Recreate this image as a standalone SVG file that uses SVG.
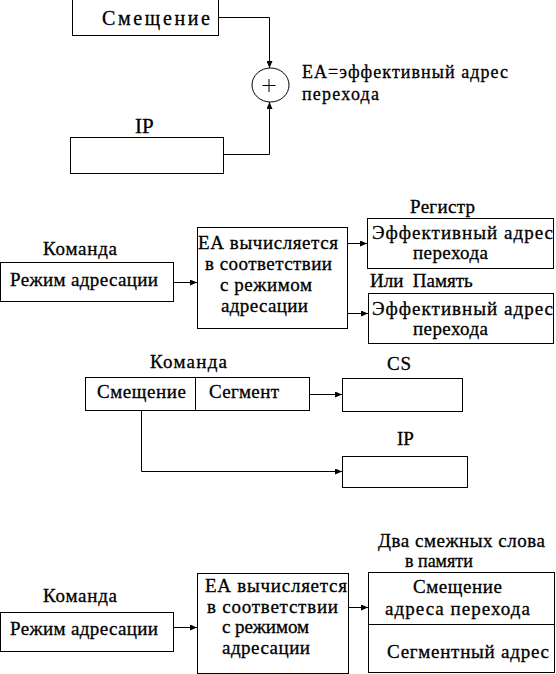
<svg xmlns="http://www.w3.org/2000/svg" width="556" height="674" viewBox="0 0 556 674">
<style>
.b{fill:#fff;stroke:#000;stroke-width:1}
.l{fill:none;stroke:#000;stroke-width:1}
text{fill:#000;stroke:#000;stroke-width:0.3px}
</style>
<defs>
<marker id="a" markerWidth="7" markerHeight="6" refX="7" refY="3" orient="auto" markerUnits="userSpaceOnUse">
<path d="M0,0 L7,3 L0,6 z" fill="#000"/>
</marker>
</defs>
<g id="connectors">
<path class="l" d="M218.5,17.5 H269.5 V68" marker-end="url(#a)"/>
<path class="l" d="M223.5,154.5 H269.5 V102" marker-end="url(#a)"/>
<path class="l" d="M173.5,282.5 H197" marker-end="url(#a)"/>
<path class="l" d="M347.5,243.5 H367" marker-end="url(#a)"/>
<path class="l" d="M347.5,313.5 H368" marker-end="url(#a)"/>
<path class="l" d="M309.5,394.5 H342" marker-end="url(#a)"/>
<path class="l" d="M141.5,410.5 V471.5 H342" marker-end="url(#a)"/>
<path class="l" d="M173.5,627.5 H197" marker-end="url(#a)"/>
<path class="l" d="M348.5,607.5 H368" marker-end="url(#a)"/>
</g>
<g id="n-smeshenie-top">
<rect class="b" x="72.5" y="-1.5" width="146" height="37"/>
<text font-family="Liberation Serif" font-size="20" x="102" y="25" textLength="108" lengthAdjust="spacing">Смещение</text>
</g>
<g id="n-ip-top">
<text font-family="Liberation Serif" font-size="21" x="135" y="133">IP</text>
<rect class="b" x="70.5" y="137.5" width="153" height="36"/>
</g>
<g id="n-sum">
<ellipse class="b" cx="270.5" cy="85" rx="18.5" ry="17"/>
<path class="l" d="M262.5,85.5 H275.5 M269,79 V92"/>
</g>
<g id="n-ea-label">
<text font-family="Liberation Serif" font-size="18" x="302" y="78" textLength="206" lengthAdjust="spacing">ЕА=эффективный адрес</text>
<text font-family="Liberation Serif" font-size="18" x="302" y="100" textLength="77" lengthAdjust="spacing">перехода</text>
</g>
<g id="n-cmd1">
<text font-family="Liberation Serif" font-size="19" x="43" y="255" textLength="74" lengthAdjust="spacing">Команда</text>
<rect class="b" x="0.5" y="262.5" width="173" height="39"/>
<text font-family="Liberation Serif" font-size="19" x="10" y="286" textLength="148" lengthAdjust="spacing">Режим адресации</text>
</g>
<g id="n-ea1">
<rect class="b" x="197.5" y="227.5" width="150" height="101"/>
<text font-family="Liberation Serif" font-size="19" x="198" y="249" textLength="140" lengthAdjust="spacing">ЕА вычисляется</text>
<text font-family="Liberation Serif" font-size="19" x="205" y="270" textLength="127" lengthAdjust="spacing">в соответствии</text>
<text font-family="Liberation Serif" font-size="19" x="220" y="291" textLength="92" lengthAdjust="spacing">с режимом</text>
<text font-family="Liberation Serif" font-size="19" x="221" y="312" textLength="87" lengthAdjust="spacing">адресации</text>
</g>
<g id="n-reg">
<text font-family="Liberation Serif" font-size="19" x="410" y="213" textLength="65" lengthAdjust="spacing">Регистр</text>
<rect class="b" x="367.5" y="218.5" width="186" height="50"/>
<text font-family="Liberation Serif" font-size="19" x="372" y="239" textLength="181" lengthAdjust="spacing">Эффективный адрес</text>
<text font-family="Liberation Serif" font-size="19" x="413" y="259" textLength="75" lengthAdjust="spacing">перехода</text>
</g>
<g id="n-mem">
<text font-family="Liberation Serif" font-size="19" y="287"><tspan x="370">Или</tspan><tspan x="408"> Память</tspan></text>
<rect class="b" x="368.5" y="293.5" width="185" height="50"/>
<text font-family="Liberation Serif" font-size="19" x="372" y="315" textLength="181" lengthAdjust="spacing">Эффективный адрес</text>
<text font-family="Liberation Serif" font-size="19" x="413" y="335" textLength="75" lengthAdjust="spacing">перехода</text>
</g>
<g id="n-cmd2">
<text font-family="Liberation Serif" font-size="19" x="150" y="368" textLength="77" lengthAdjust="spacing">Команда</text>
<rect class="b" x="85.5" y="377.5" width="224" height="33"/>
<path class="l" d="M195.5,377.5 V410.5"/>
<text font-family="Liberation Serif" font-size="19" x="97" y="398" textLength="89" lengthAdjust="spacing">Смещение</text>
<text font-family="Liberation Serif" font-size="19" x="209" y="398" textLength="70" lengthAdjust="spacing">Сегмент</text>
</g>
<g id="n-cs">
<text font-family="Liberation Serif" font-size="19" x="387" y="370" textLength="24" lengthAdjust="spacing">CS</text>
<rect class="b" x="342.5" y="378.5" width="120" height="33"/>
</g>
<g id="n-ip2">
<text font-family="Liberation Serif" font-size="19" x="397" y="445">IP</text>
<rect class="b" x="342.5" y="456.5" width="125" height="31"/>
</g>
<g id="n-cmd3">
<text font-family="Liberation Serif" font-size="19" x="43" y="602" textLength="74" lengthAdjust="spacing">Команда</text>
<rect class="b" x="0.5" y="612.5" width="173" height="39"/>
<text font-family="Liberation Serif" font-size="19" x="10" y="635" textLength="148" lengthAdjust="spacing">Режим адресации</text>
</g>
<g id="n-ea2">
<rect class="b" x="197.5" y="573.5" width="151" height="100"/>
<text font-family="Liberation Serif" font-size="19" x="205" y="592" textLength="142" lengthAdjust="spacing">ЕА вычисляется</text>
<text font-family="Liberation Serif" font-size="19" x="207" y="613" textLength="131" lengthAdjust="spacing">в соответствии</text>
<text font-family="Liberation Serif" font-size="19" x="222" y="633" textLength="87" lengthAdjust="spacing">с режимом</text>
<text font-family="Liberation Serif" font-size="19" x="222" y="654" textLength="88" lengthAdjust="spacing">адресации</text>
</g>
<g id="n-words">
<text font-family="Liberation Serif" font-size="19" x="378" y="547" textLength="167" lengthAdjust="spacing">Два смежных слова</text>
<text font-family="Liberation Serif" font-size="18" x="405" y="567">в памяти</text>
<rect class="b" x="368.5" y="572.5" width="186" height="100"/>
<path class="l" d="M368.5,624.5 H554.5"/>
<text font-family="Liberation Serif" font-size="19" x="413" y="593" textLength="89" lengthAdjust="spacing">Смещение</text>
<text font-family="Liberation Serif" font-size="19" x="385" y="615" textLength="145" lengthAdjust="spacing">адреса перехода</text>
<text font-family="Liberation Serif" font-size="19" x="387" y="658" textLength="162" lengthAdjust="spacing">Сегментный адрес</text>
</g>
</svg>
